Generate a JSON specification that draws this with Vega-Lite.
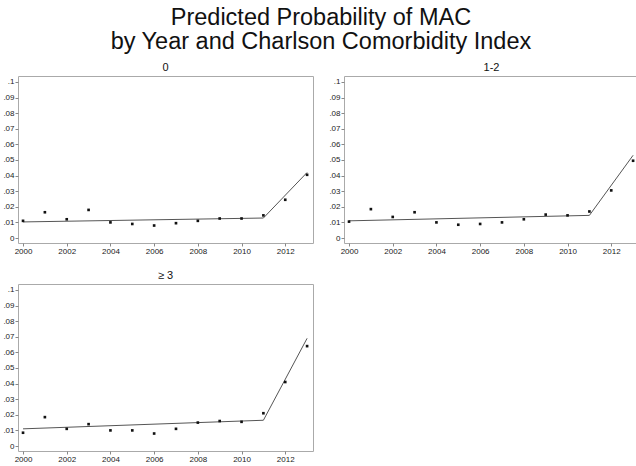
{
  "$schema": "https://vega.github.io/schema/vega-lite/v6.json",
  "padding": {"left": 2, "top": 6, "right": 2, "bottom": 2},
  "background": "white",
  "title": {
    "text": ["Predicted Probability of MAC", "by Year and Charlson Comorbidity Index"],
    "fontSize": 23.5,
    "font": "Liberation Sans",
    "fontWeight": "normal",
    "color": "#111",
    "lineHeight": 24,
    "anchor": "middle",
    "offset": 8
  },
  "data": {
    "values": [
      {"cci": "0", "year": 2000, "p": 0.011, "fit": 0.0103},
      {"cci": "0", "year": 2001, "p": 0.0165, "fit": null},
      {"cci": "0", "year": 2002, "p": 0.012, "fit": null},
      {"cci": "0", "year": 2003, "p": 0.018, "fit": null},
      {"cci": "0", "year": 2004, "p": 0.010, "fit": null},
      {"cci": "0", "year": 2005, "p": 0.009, "fit": null},
      {"cci": "0", "year": 2006, "p": 0.008, "fit": null},
      {"cci": "0", "year": 2007, "p": 0.0095, "fit": null},
      {"cci": "0", "year": 2008, "p": 0.011, "fit": null},
      {"cci": "0", "year": 2009, "p": 0.0125, "fit": null},
      {"cci": "0", "year": 2010, "p": 0.0125, "fit": null},
      {"cci": "0", "year": 2011, "p": 0.0145, "fit": 0.0128},
      {"cci": "0", "year": 2012, "p": 0.0245, "fit": null},
      {"cci": "0", "year": 2013, "p": 0.0405, "fit": 0.042},
      {"cci": "1-2", "year": 2000, "p": 0.0105, "fit": 0.011},
      {"cci": "1-2", "year": 2001, "p": 0.0185, "fit": null},
      {"cci": "1-2", "year": 2002, "p": 0.0135, "fit": null},
      {"cci": "1-2", "year": 2003, "p": 0.0165, "fit": null},
      {"cci": "1-2", "year": 2004, "p": 0.010, "fit": null},
      {"cci": "1-2", "year": 2005, "p": 0.0085, "fit": null},
      {"cci": "1-2", "year": 2006, "p": 0.009, "fit": null},
      {"cci": "1-2", "year": 2007, "p": 0.010, "fit": null},
      {"cci": "1-2", "year": 2008, "p": 0.012, "fit": null},
      {"cci": "1-2", "year": 2009, "p": 0.015, "fit": null},
      {"cci": "1-2", "year": 2010, "p": 0.0145, "fit": null},
      {"cci": "1-2", "year": 2011, "p": 0.017, "fit": 0.0145},
      {"cci": "1-2", "year": 2012, "p": 0.0305, "fit": null},
      {"cci": "1-2", "year": 2013, "p": 0.0495, "fit": 0.053},
      {"cci": "≥ 3", "year": 2000, "p": 0.0085, "fit": 0.011},
      {"cci": "≥ 3", "year": 2001, "p": 0.0185, "fit": null},
      {"cci": "≥ 3", "year": 2002, "p": 0.011, "fit": null},
      {"cci": "≥ 3", "year": 2003, "p": 0.014, "fit": null},
      {"cci": "≥ 3", "year": 2004, "p": 0.010, "fit": null},
      {"cci": "≥ 3", "year": 2005, "p": 0.010, "fit": null},
      {"cci": "≥ 3", "year": 2006, "p": 0.008, "fit": null},
      {"cci": "≥ 3", "year": 2007, "p": 0.011, "fit": null},
      {"cci": "≥ 3", "year": 2008, "p": 0.015, "fit": null},
      {"cci": "≥ 3", "year": 2009, "p": 0.016, "fit": null},
      {"cci": "≥ 3", "year": 2010, "p": 0.0155, "fit": null},
      {"cci": "≥ 3", "year": 2011, "p": 0.021, "fit": 0.0165},
      {"cci": "≥ 3", "year": 2012, "p": 0.041, "fit": null},
      {"cci": "≥ 3", "year": 2013, "p": 0.064, "fit": 0.069}
    ]
  },
  "facet": {
    "field": "cci",
    "type": "nominal",
    "sort": ["0", "1-2", "≥ 3"],
    "header": {"title": null, "labelFontSize": 11, "labelFont": "Liberation Sans", "labelColor": "#111", "labelPadding": 3}
  },
  "columns": 2,
  "spacing": {"column": 14, "row": 13},
  "resolve": {"axis": {"x": "independent", "y": "independent"}},
  "spec": {
    "width": 295,
    "height": 167,
    "encoding": {
      "x": {
        "field": "year", "type": "quantitative",
        "scale": {"domain": [1999.77, 2013.27], "nice": false, "zero": false},
        "axis": {"title": null, "values": [2000, 2002, 2004, 2006, 2008, 2010, 2012], "format": "d", "labelFontSize": 8, "labelFont": "Liberation Sans", "labelColor": "#222", "tickSize": 3, "tickColor": "#888", "domain": false, "grid": false, "labelPadding": 1, "labelFlush": false, "labelOverlap": false}
      }
    },
    "layer": [
      {
        "transform": [{"filter": "isValid(datum.fit)"}],
        "mark": {"type": "line", "color": "#555", "strokeWidth": 1},
        "encoding": {
          "y": {
            "field": "fit", "type": "quantitative",
            "scale": {"domain": [-0.0032, 0.1038], "nice": false, "zero": false},
            "axis": {"title": null, "values": [0, 0.01, 0.02, 0.03, 0.04, 0.05, 0.06, 0.07, 0.08, 0.09, 0.1], "labelExpr": "datum.value == 0 ? '0' : replace(format(datum.value, '.2~f'), '0.', '.')", "labelFontSize": 8, "labelFont": "Liberation Sans", "labelColor": "#222", "tickSize": 3, "tickColor": "#888", "domain": false, "grid": false, "labelPadding": 1, "labelOverlap": false}
          }
        }
      },
      {
        "mark": {"type": "point", "shape": "square", "filled": true, "size": 7, "color": "#111", "opacity": 1},
        "encoding": {
          "y": {
            "field": "p", "type": "quantitative",
            "scale": {"domain": [-0.0032, 0.1038], "nice": false, "zero": false},
            "axis": {"title": null, "values": [0, 0.01, 0.02, 0.03, 0.04, 0.05, 0.06, 0.07, 0.08, 0.09, 0.1], "labelExpr": "datum.value == 0 ? '0' : replace(format(datum.value, '.2~f'), '0.', '.')", "labelFontSize": 8, "labelFont": "Liberation Sans", "labelColor": "#222", "tickSize": 3, "tickColor": "#888", "domain": false, "grid": false, "labelPadding": 1, "labelOverlap": false}
          }
        }
      }
    ]
  },
  "config": {
    "view": {"stroke": "#aaa", "strokeWidth": 1}
  }
}
